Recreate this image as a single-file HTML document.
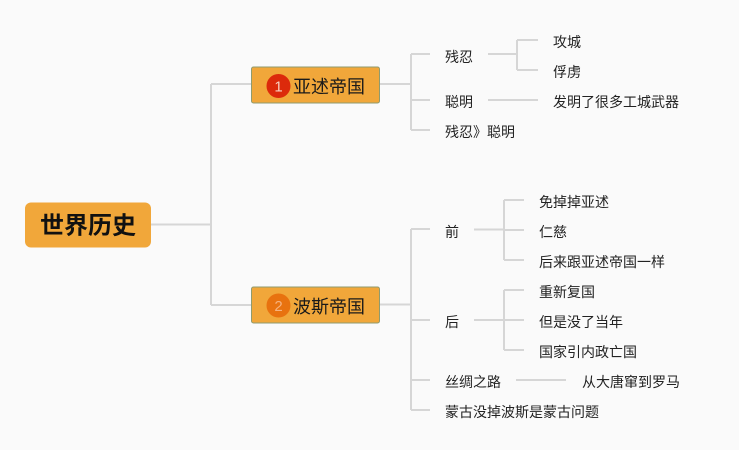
<!DOCTYPE html>
<html>
<head>
<meta charset="utf-8">
<style>
html,body{margin:0;padding:0;background:#fafafa;}
svg{display:block;}
text{font-family:"Liberation Sans","Noto Sans CJK SC",sans-serif;fill:#222;}
.s{font-size:14px;}
</style>
</head>
<body>
<svg width="739" height="450" viewBox="0 0 739 450" xmlns="http://www.w3.org/2000/svg">
<rect x="0" y="0" width="739" height="450" fill="#fafafa"/>
<g fill="none" stroke="#d6d6d6" stroke-width="2">
<path d="M151 224.5H211M211 84V305M211 84H251M211 305H251"/>
<path d="M380 84H411M411 54V130M411 54H430M411 100H430M411 130H430"/>
<path d="M488 54H517M517 40V70M517 40H538M517 70H538"/>
<path d="M488 100H538"/>
<path d="M380 304.5H411M411 229V410M411 229H430M411 320H430M411 380H430M411 410H430"/>
<path d="M474 229.5H504M504 200V260M504 200H524M504 230H524M504 260H524"/>
<path d="M474 320H504M504 290V350M504 290H524M504 320H524M504 350H524"/>
<path d="M516 380H566"/>
</g>
<!-- root -->
<rect x="25" y="202.5" width="126" height="45" rx="6" fill="#f1a73a"/>
<text x="88" y="226" text-anchor="middle" dominant-baseline="central" style="font-size:24px;font-weight:bold;fill:#111">世界历史</text>
<!-- node 1 -->
<rect x="251.5" y="67" width="128" height="36" rx="2" fill="#f1a73a" stroke="#8f9b6e" stroke-width="1"/>
<circle cx="278.5" cy="86" r="12" fill="#dc2a0b"/>
<text x="278.5" y="87" text-anchor="middle" dominant-baseline="central" style="font-size:15px;fill:#f7d0c0">1</text>
<text x="293" y="87" dominant-baseline="central" style="font-size:18px;fill:#1a1a1a">亚述帝国</text>
<!-- node 2 -->
<rect x="251.5" y="287" width="128" height="36" rx="2" fill="#f1a73a" stroke="#8f9b6e" stroke-width="1"/>
<circle cx="278.5" cy="305.5" r="12" fill="#e8720f"/>
<text x="278.5" y="306.5" text-anchor="middle" dominant-baseline="central" style="font-size:15px;fill:#f6b27e">2</text>
<text x="293" y="307" dominant-baseline="central" style="font-size:18px;fill:#1a1a1a">波斯帝国</text>
<!-- node1 children -->
<text class="s" x="445" y="57" dominant-baseline="central">残忍</text>
<text class="s" x="553" y="42" dominant-baseline="central">攻城</text>
<text class="s" x="553" y="72" dominant-baseline="central">俘虏</text>
<text class="s" x="445" y="102" dominant-baseline="central">聪明</text>
<text class="s" x="553" y="102" dominant-baseline="central">发明了很多工城武器</text>
<text class="s" x="445" y="132" dominant-baseline="central">残忍》聪明</text>
<!-- node2 children -->
<text class="s" x="445" y="232" dominant-baseline="central">前</text>
<text class="s" x="539" y="202" dominant-baseline="central">免掉掉亚述</text>
<text class="s" x="539" y="232" dominant-baseline="central">仁慈</text>
<text class="s" x="539" y="262" dominant-baseline="central">后来跟亚述帝国一样</text>
<text class="s" x="445" y="322" dominant-baseline="central">后</text>
<text class="s" x="539" y="292" dominant-baseline="central">重新复国</text>
<text class="s" x="539" y="322" dominant-baseline="central">但是没了当年</text>
<text class="s" x="539" y="352" dominant-baseline="central">国家引内政亡国</text>
<text class="s" x="445" y="382" dominant-baseline="central">丝绸之路</text>
<text class="s" x="582" y="382" dominant-baseline="central">从大唐窜到罗马</text>
<text class="s" x="445" y="412" dominant-baseline="central">蒙古没掉波斯是蒙古问题</text>
</svg>
</body>
</html>
